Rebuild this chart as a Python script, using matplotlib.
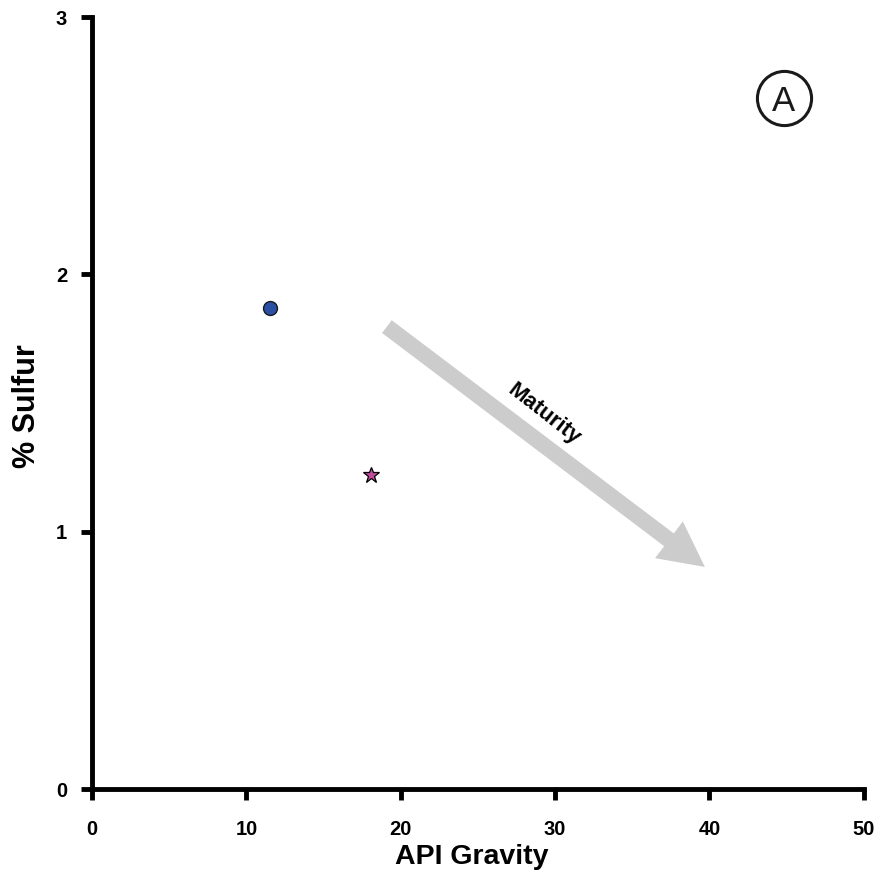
import matplotlib
matplotlib.use("Agg")
import matplotlib.pyplot as plt
from matplotlib.patches import FancyArrow
from matplotlib.transforms import IdentityTransform

plt.rcParams['font.family'] = ['Liberation Sans', 'DejaVu Sans']

# Samples: API gravity vs. sulfur content
circle_api = [11.5]
circle_sulfur = [1.87]
star_api = [18.1]
star_sulfur = [1.22]

x_ticks = [0, 10, 20, 30, 40, 50]
y_ticks = [0, 1, 2, 3]

# Maturity trend arrow (tail -> tip), data coordinates
arrow_tail = (19.1, 1.797)
arrow_tip = (39.7, 0.863)

# Panel letter position, data coordinates
panel_pos = (44.8, 2.685)

fig = plt.figure(figsize=(8.77, 8.73), dpi=100)
ax = fig.add_axes([0.105, 0.0962, 0.880, 0.8843])

ax.set_xlim(0, 50)
ax.set_ylim(0, 3)

# Trend arrow built in pixel space so that the head keeps its shape
(tx, ty), (hx, hy) = ax.transData.transform([arrow_tail, arrow_tip])
arr = FancyArrow(tx, ty, hx - tx, hy - ty, width=16, head_width=46,
                 head_length=45, length_includes_head=True,
                 color='#cccccc', lw=0, transform=IdentityTransform(),
                 zorder=1)
ax.add_artist(arr)

ax.text(29.25, 1.455, 'Maturity', rotation=-38, rotation_mode='anchor',
        ha='center', va='center', fontsize=16, fontweight='bold', color='black')

ax.plot(circle_api, circle_sulfur, 'o', ms=10, mfc='#2b4fa3', mec='#1a1a1a',
        mew=1.0, zorder=3)
ax.plot(star_api, star_sulfur, '*', ms=12, mfc='#c04a9c', mec='black',
        mew=0.9, zorder=3)

# Panel letter in a circle
ax.plot([panel_pos[0]], [panel_pos[1]], 'o', ms=39, mfc='none', mec='#1a1a1a',
        mew=2.2, zorder=3, clip_on=False)
ax.text(panel_pos[0], panel_pos[1], 'A', ha='center', va='center_baseline',
        fontsize=25, color='#1a1a1a')

for s in ['top', 'right']:
    ax.spines[s].set_visible(False)
for s in ['left', 'bottom']:
    ax.spines[s].set_linewidth(3.5)

ax.set_xticks(x_ticks)
ax.set_yticks(y_ticks)
ax.set_xticklabels([str(v) for v in x_ticks], fontsize=14.5, fontweight='bold')
ax.set_yticklabels([str(v) for v in y_ticks], fontsize=14.5, fontweight='bold')
ax.tick_params(axis='both', direction='out', length=8, width=3.5)
ax.tick_params(axis='x', pad=14)
ax.tick_params(axis='y', pad=10)

ax.set_xlabel('API Gravity', fontsize=20.5, fontweight='bold', va='center')
ax.xaxis.set_label_coords(0.4916, -0.088)
ax.set_ylabel('% Sulfur', fontsize=22, fontweight='bold', va='center')
ax.yaxis.set_label_coords(-0.084, 0.496)

fig.savefig('out.png', dpi=100)
